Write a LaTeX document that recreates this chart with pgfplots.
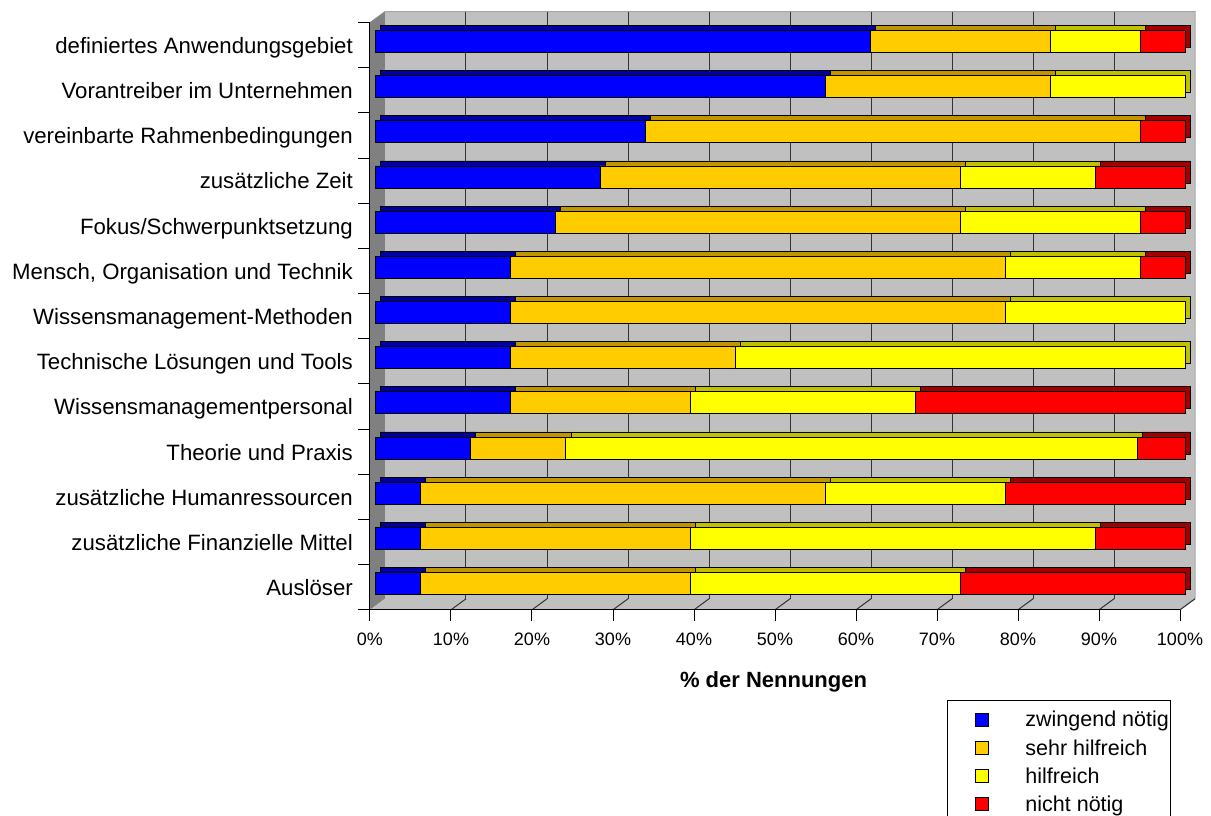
\documentclass[border=0pt]{standalone}
\usepackage{fontspec}
\setmainfont{Liberation Sans}
\usepackage{pgfplots}
\usepackage{pgfplotstable}
\pgfplotsset{compat=1.18}

% front faces
\definecolor{cBlue}{HTML}{0000FF}
\definecolor{cOrange}{HTML}{FFCC00}
\definecolor{cYellow}{HTML}{FFFF00}
\definecolor{cRed}{HTML}{FF0000}
% top faces (darker shades)
\definecolor{sBlue}{HTML}{0000A0}
\definecolor{sOrange}{HTML}{C09600}
\definecolor{sYellow}{HTML}{C0C000}
\definecolor{sRed}{HTML}{A00000}
% walls
\definecolor{wallGray}{HTML}{C0C0C0}
\definecolor{sideGray}{HTML}{808080}
\definecolor{gridGray}{HTML}{333333}

% shares in percent, k = 0 is the bottom row
\pgfplotstableread{
k  zw     sh     hi     nn
0  5.56   33.33  33.33  27.78
1  5.56   33.33  50.00  11.11
2  5.56   50.00  22.22  22.22
3  11.76  11.76  70.59  5.88
4  16.67  22.22  27.78  33.33
5  16.67  27.78  55.56  0
6  16.67  61.11  22.22  0
7  16.67  61.11  16.67  5.56
8  22.22  50.00  22.22  5.56
9  27.78  44.44  16.67  11.11
10 33.33  61.11  0      5.56
11 55.56  27.78  16.67  0
12 61.11  22.22  11.11  5.56
}\nennungen

\newcommand\legsq[1]{%
  \path[draw=none, fill=none] (0pt,-6.5pt) rectangle (76pt,6.5pt);
  \draw[fill=#1, draw=black, line width=0.8pt] (28pt,-6.5pt) rectangle (41pt,6.5pt);}

\pgfplotsset{
  chartbox/.style={scale only axis, width=810pt, height=587.2pt,
    xmin=0, xmax=100, ymin=-0.5, ymax=12.5, hide axis, clip=false,
    anchor=south west},
  barbox/.style={chartbox, xbar stacked, bar width=22pt,
    every axis plot/.append style={draw=black, line width=0.8pt}},
}

\tikzset{
  cat/.style={anchor=base east, font=\fontsize{22.2}{24}\selectfont, inner sep=0pt},
  bk/.style={xshift=10pt, yshift=7.3pt},
  fr/.style={xshift=-5pt, yshift=-3.7pt},
}

\begin{document}
\begin{tikzpicture}
\useasboundingbox (0,0) rectangle (1211pt,816pt);

% walls, floor, grid and labels
\begin{axis}[chartbox, at={(375pt,209.9pt)}]
  \fill[wallGray] ([bk]axis cs:0,-0.5) rectangle ([bk]axis cs:100,12.5);
  \fill[sideGray] ([fr]axis cs:0,-0.5) -- ([fr]axis cs:0,12.5) -- ([bk]axis cs:0,12.5) -- ([bk]axis cs:0,-0.5) -- cycle;
  \fill[wallGray] ([fr]axis cs:0,-0.5) -- ([fr]axis cs:100,-0.5) -- ([bk]axis cs:100,-0.5) -- ([bk]axis cs:0,-0.5) -- cycle;
  \draw[gray!70, line width=1pt] ([bk]axis cs:0,12.5) -- ([bk]axis cs:100,12.5) -- ([bk]axis cs:100,-0.5) -- ([fr]axis cs:100,-0.5);
  \draw[gray!90, line width=0.8pt] ([fr]axis cs:0,12.5) -- ([bk]axis cs:0,12.5);
  \pgfplotsinvokeforeach{10,20,...,90}{
    \draw[gridGray, line width=1pt] ([bk]axis cs:#1,-0.5) -- ([bk]axis cs:#1,12.5);
  }
  \pgfplotsinvokeforeach{10,20,...,100}{
    \draw[gridGray, line width=1pt] ([bk]axis cs:#1,-0.5) -- ([fr]axis cs:#1,-0.5);
  }
  \pgfplotsinvokeforeach{0,10,...,100}{
    \draw[black, line width=1pt] ([fr]axis cs:#1,-0.5) -- ([fr,yshift=-11pt]axis cs:#1,-0.5);
    \node[anchor=base, font=\fontsize{18}{20}\selectfont, inner sep=0pt]
      at ([xshift=-5pt,yshift=-39pt]axis cs:#1,-0.5) {#1\%};
  }
  \draw[black, line width=1pt] ([fr,xshift=-12pt]axis cs:0,-0.5) -- ([fr]axis cs:100,-0.5);
  \draw[black, line width=1pt] ([fr]axis cs:0,-0.5) -- ([fr]axis cs:0,12.5);
  \pgfplotsinvokeforeach{0.5,1.5,...,12.5}{
    \draw[black, line width=1pt] ([fr]axis cs:0,#1) -- ([fr,xshift=-12pt]axis cs:0,#1);
  }
  \node[cat] at ([xshift=-22pt,yshift=-12pt]axis cs:0,12) {definiertes Anwendungsgebiet};
  \node[cat] at ([xshift=-22pt,yshift=-12pt]axis cs:0,11) {Vorantreiber im Unternehmen};
  \node[cat] at ([xshift=-22pt,yshift=-12pt]axis cs:0,10) {vereinbarte Rahmenbedingungen};
  \node[cat] at ([xshift=-22pt,yshift=-12pt]axis cs:0,9) {zusätzliche Zeit};
  \node[cat] at ([xshift=-22pt,yshift=-12pt]axis cs:0,8) {Fokus/Schwerpunktsetzung};
  \node[cat] at ([xshift=-22pt,yshift=-12pt]axis cs:0,7) {Mensch, Organisation und Technik};
  \node[cat] at ([xshift=-22pt,yshift=-12pt]axis cs:0,6) {Wissensmanagement-Methoden};
  \node[cat] at ([xshift=-22pt,yshift=-12pt]axis cs:0,5) {Technische Lösungen und Tools};
  \node[cat] at ([xshift=-22pt,yshift=-12pt]axis cs:0,4) {Wissensmanagementpersonal};
  \node[cat] at ([xshift=-22pt,yshift=-12pt]axis cs:0,3) {Theorie und Praxis};
  \node[cat] at ([xshift=-22pt,yshift=-12pt]axis cs:0,2) {zusätzliche Humanressourcen};
  \node[cat] at ([xshift=-22pt,yshift=-12pt]axis cs:0,1) {zusätzliche Finanzielle Mittel};
  \node[cat] at ([xshift=-22pt,yshift=-12pt]axis cs:0,0) {Auslöser};
  \node[anchor=base, font=\bfseries\fontsize{22}{24}\selectfont, inner sep=0pt]
    at ([yshift=-81.9pt]axis cs:49.2,-0.5) {\% der Nennungen};
\end{axis}

% depth of the bars (top and side faces)
\begin{axis}[barbox, at={(380.5pt,214.9pt)}]
  \addplot[fill=sBlue]   table[x=zw, y=k] {\nennungen};
  \addplot[fill=sOrange] table[x=sh, y=k] {\nennungen};
  \addplot[fill=sYellow] table[x=hi, y=k] {\nennungen};
  \addplot[fill=sRed]    table[x=nn, y=k] {\nennungen};
\end{axis}

% front faces of the bars
\begin{axis}[barbox, at={(375pt,209.9pt)},
  legend cell align=left,
  legend style={at={(axis description cs:0.7062,-0.1599)}, anchor=north west,
    draw=black, line width=0.8pt, fill=white,
    inner xsep=0pt, inner ysep=9pt, row sep=7pt, column sep=0pt,
    font=\fontsize{21.5}{24}\selectfont,
    column 1/.style={nodes={inner sep=0pt}},
    column 2/.style={nodes={inner sep=0pt, text height=15pt, text depth=5pt,
      text width=171pt, anchor=west}}}]
  \addplot[fill=cBlue, legend image code/.code={\legsq{cBlue}}]
    table[x=zw, y=k] {\nennungen};
  \addlegendentry{zwingend nötig}
  \addplot[fill=cOrange, legend image code/.code={\legsq{cOrange}}]
    table[x=sh, y=k] {\nennungen};
  \addlegendentry{sehr hilfreich}
  \addplot[fill=cYellow, legend image code/.code={\legsq{cYellow}}]
    table[x=hi, y=k] {\nennungen};
  \addlegendentry{hilfreich}
  \addplot[fill=cRed, legend image code/.code={\legsq{cRed}}]
    table[x=nn, y=k] {\nennungen};
  \addlegendentry{nicht nötig}
\end{axis}
\end{tikzpicture}
\end{document}
